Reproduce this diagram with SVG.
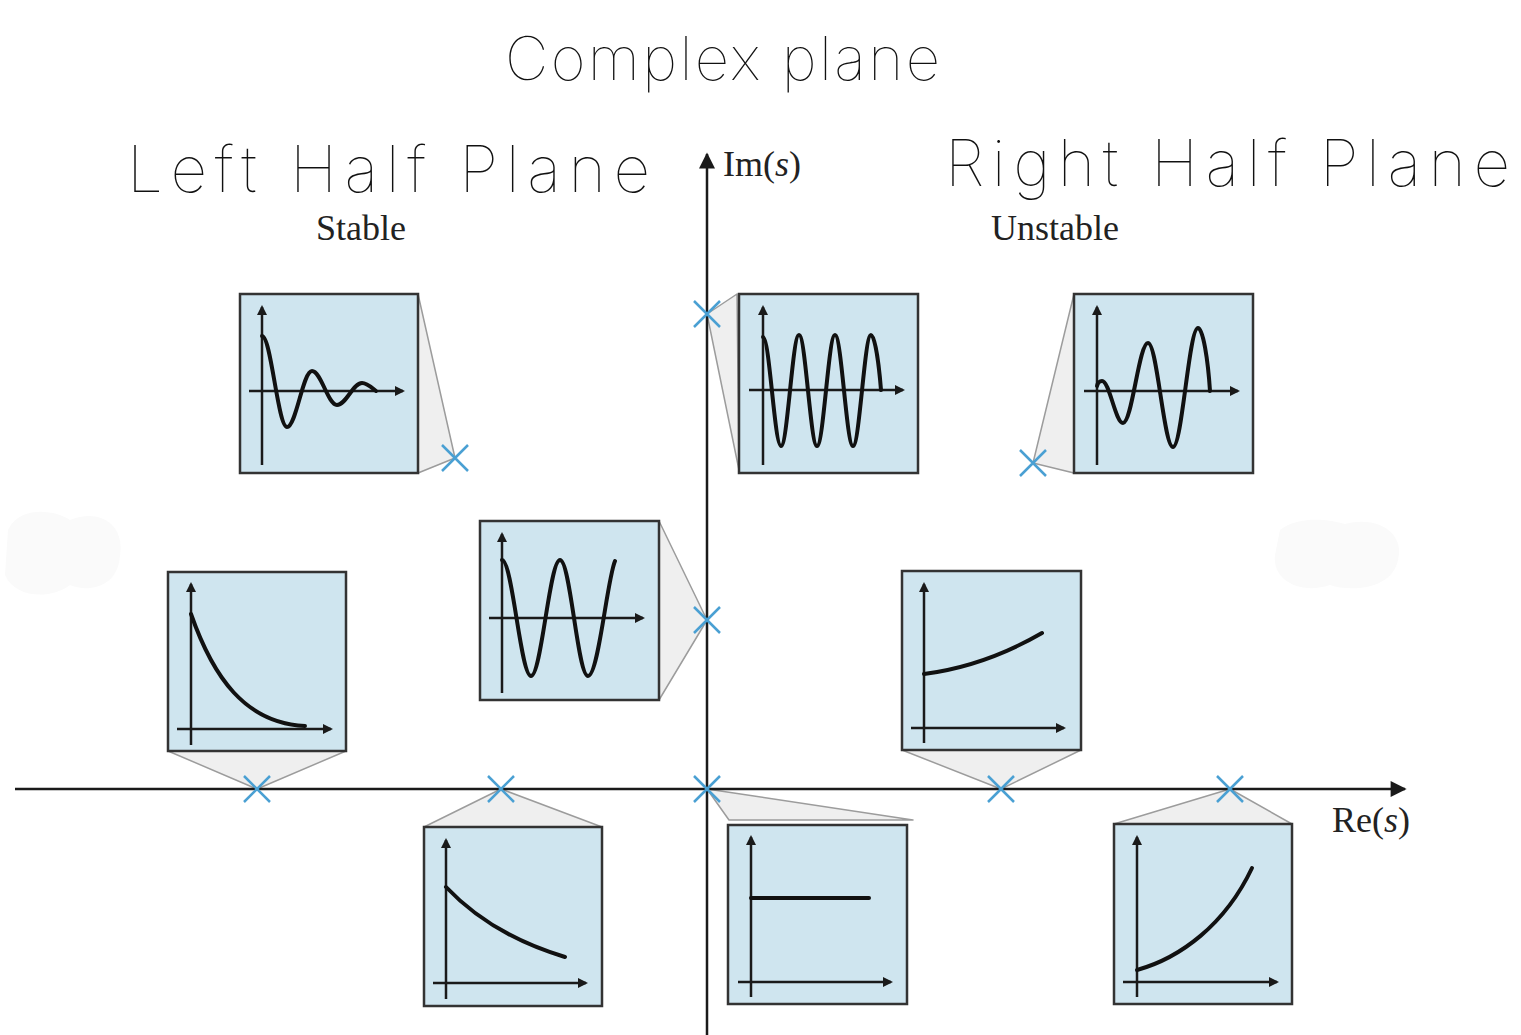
<svg xmlns="http://www.w3.org/2000/svg" width="1521" height="1035" viewBox="0 0 1521 1035">
<style>
.box{fill:#cfe5ef;stroke:#333;stroke-width:2.5}
.fun{fill:#efefef;stroke:#9c9c9c;stroke-width:1.5;stroke-linejoin:round}
.ax{stroke:#1a1a1a;stroke-width:2.5;fill:none}
.cv{stroke:#111;stroke-width:4;fill:none;stroke-linecap:round;stroke-linejoin:round}
.pole{stroke:#4aa0d3;stroke-width:2.5;fill:none}
.hw{font-family:Inter,Roboto,Lato,"DejaVu Sans",sans-serif;font-weight:100;fill:#111}
.lbl{font-family:"Liberation Serif","Times New Roman",serif;font-size:36px;fill:#222}
.blob{fill:#fafafa}
</style>
<defs>
<marker id="sa" viewBox="0 0 10 10" refX="8" refY="5" markerWidth="11" markerHeight="10" markerUnits="userSpaceOnUse" orient="auto"><path d="M0,0 L10,5 L0,10 z" fill="#1a1a1a"/></marker>
<marker id="la" viewBox="0 0 10 10" refX="9" refY="5" markerWidth="22" markerHeight="16" markerUnits="userSpaceOnUse" orient="auto"><path d="M0,0 L10,5 L0,10 z" fill="#1a1a1a"/></marker>
<g id="pole-mark"><path d="M-13,-13 L13,13 M13,-13 L-13,13"/></g>
</defs>
<rect width="1521" height="1035" fill="#fff"/>
<g id="blobs">
<path class="blob" d="M8,530 C20,505 55,510 70,520 C100,508 125,525 120,555 C118,590 85,592 70,585 C50,600 15,598 5,575 Z"/>
<path class="blob" d="M1280,530 C1300,515 1330,520 1345,524 C1380,515 1405,535 1398,560 C1392,590 1350,592 1330,585 C1300,595 1272,580 1275,555 Z"/>
</g>
<g id="handwriting">
<text class="hw" x="505" y="80" font-size="60" textLength="435" lengthAdjust="spacing">Complex plane</text>
<text class="hw" x="127" y="192" font-size="64" textLength="523" lengthAdjust="spacing">Left Half Plane</text>
<text class="hw" x="945" y="186" font-size="64" textLength="565" lengthAdjust="spacing">Right Half Plane</text>
</g>
<g id="connectors">
<polygon class="fun" points="418,294 455,458 418,473"/>
<polygon class="fun" points="737,294 707,314 739,470"/>
<polygon class="fun" points="1074,294 1033,463 1074,473"/>
<polygon class="fun" points="168,751 257,789 346,751"/>
<polygon class="fun" points="659,521 707,620 659,700"/>
<polygon class="fun" points="902,750 1001,789 1081,750"/>
<polygon class="fun" points="424,827 501,789 602,827"/>
<polygon class="fun" points="707,789 729,820 913,820"/>
<polygon class="fun" points="1114,824 1230,789 1292,824"/>
</g>
<g id="axes">
<line class="ax" x1="15" y1="789" x2="1405" y2="789" marker-end="url(#la)"/>
<line class="ax" x1="707" y1="1035" x2="707" y2="154" marker-end="url(#la)"/>
<text class="lbl" x="723" y="176">Im(<tspan font-style="italic">s</tspan>)</text>
<text class="lbl" x="1332" y="832">Re(<tspan font-style="italic">s</tspan>)</text>
<text class="lbl" x="361" y="240" text-anchor="middle">Stable</text>
<text class="lbl" x="1055" y="240" text-anchor="middle">Unstable</text>
</g>
<g id="node-damped">
<rect class="box" x="240" y="294" width="178" height="179"/>
<line class="ax" x1="262" y1="465" x2="262" y2="307" marker-end="url(#sa)"/>
<line class="ax" x1="249" y1="391" x2="403" y2="391" marker-end="url(#sa)"/>
<path class="cv" d="M262,336 C271.1,336 277.9,427 287,427 C296.1,427 302.9,371 312,371 C321.1,371 327.9,405 337,405 C346.1,405 352.9,383 362,383 C367,383 371,387 376,391"/>
</g>
<g id="node-sustained-fast">
<rect class="box" x="739" y="294" width="179" height="179"/>
<line class="ax" x1="763" y1="465" x2="763" y2="307" marker-end="url(#sa)"/>
<line class="ax" x1="749" y1="390" x2="903" y2="390" marker-end="url(#sa)"/>
<path class="cv" d="M763,337 C769.5,337 774.5,446 781,446 C787.5,446 792.5,335 799,335 C805.5,335 810.5,446 817,446 C823.5,446 828.5,335 835,335 C841.5,335 846.5,446 853,446 C859.5,446 864.5,335 871,335 C875,335 879,365 881,390"/>
</g>
<g id="node-growing-osc">
<rect class="box" x="1074" y="294" width="179" height="179"/>
<line class="ax" x1="1097" y1="465" x2="1097" y2="307" marker-end="url(#sa)"/>
<line class="ax" x1="1084" y1="391" x2="1238" y2="391" marker-end="url(#sa)"/>
<path class="cv" d="M1097,386 C1098,382 1100,381 1102,381 C1109.6,381 1115.4,423 1123,423 C1132.1,423 1138.9,343 1148,343 C1157.1,343 1163.9,447 1173,447 C1182.1,447 1188.9,328 1198,328 C1203,328 1208,360 1210,391"/>
</g>
<g id="node-fast-decay">
<rect class="box" x="168" y="572" width="178" height="179"/>
<line class="ax" x1="191" y1="745" x2="191" y2="584" marker-end="url(#sa)"/>
<line class="ax" x1="177" y1="729" x2="331" y2="729" marker-end="url(#sa)"/>
<path class="cv" d="M191,614 C213,677 245,723 305,726"/>
</g>
<g id="node-sustained">
<rect class="box" x="480" y="521" width="179" height="179"/>
<line class="ax" x1="502" y1="693" x2="502" y2="534" marker-end="url(#sa)"/>
<line class="ax" x1="489" y1="618" x2="643" y2="618" marker-end="url(#sa)"/>
<path class="cv" d="M502,560 C512.4,560 520.6,676 531,676 C541.4,676 549.6,560 560,560 C570.4,560 577.6,676 588,676 C598.4,676 607,580 615,561"/>
</g>
<g id="node-slow-growth">
<rect class="box" x="902" y="571" width="179" height="179"/>
<line class="ax" x1="924" y1="743" x2="924" y2="584" marker-end="url(#sa)"/>
<line class="ax" x1="911" y1="728" x2="1064" y2="728" marker-end="url(#sa)"/>
<path class="cv" d="M924,674 Q985,666 1042,633"/>
</g>
<g id="node-slow-decay">
<rect class="box" x="424" y="827" width="178" height="179"/>
<line class="ax" x1="446" y1="999" x2="446" y2="840" marker-end="url(#sa)"/>
<line class="ax" x1="433" y1="983" x2="586" y2="983" marker-end="url(#sa)"/>
<path class="cv" d="M446,887 C481,924 525,945 565,957"/>
</g>
<g id="node-constant">
<rect class="box" x="728" y="825" width="179" height="179"/>
<line class="ax" x1="751" y1="997" x2="751" y2="837" marker-end="url(#sa)"/>
<line class="ax" x1="738" y1="982" x2="891" y2="982" marker-end="url(#sa)"/>
<path class="cv" d="M751,898 L869,898"/>
</g>
<g id="node-fast-growth">
<rect class="box" x="1114" y="824" width="178" height="180"/>
<line class="ax" x1="1137" y1="997" x2="1137" y2="837" marker-end="url(#sa)"/>
<line class="ax" x1="1123" y1="982" x2="1277" y2="982" marker-end="url(#sa)"/>
<path class="cv" d="M1137,970 C1180,958 1225,925 1252,868"/>
</g>
<g id="poles" class="pole">
<use href="#pole-mark" x="455" y="458"/>
<use href="#pole-mark" x="707" y="314"/>
<use href="#pole-mark" x="1033" y="463"/>
<use href="#pole-mark" x="257" y="789"/>
<use href="#pole-mark" x="707" y="620"/>
<use href="#pole-mark" x="1001" y="789"/>
<use href="#pole-mark" x="501" y="789"/>
<use href="#pole-mark" x="707" y="789"/>
<use href="#pole-mark" x="1230" y="789"/>
</g>
</svg>
